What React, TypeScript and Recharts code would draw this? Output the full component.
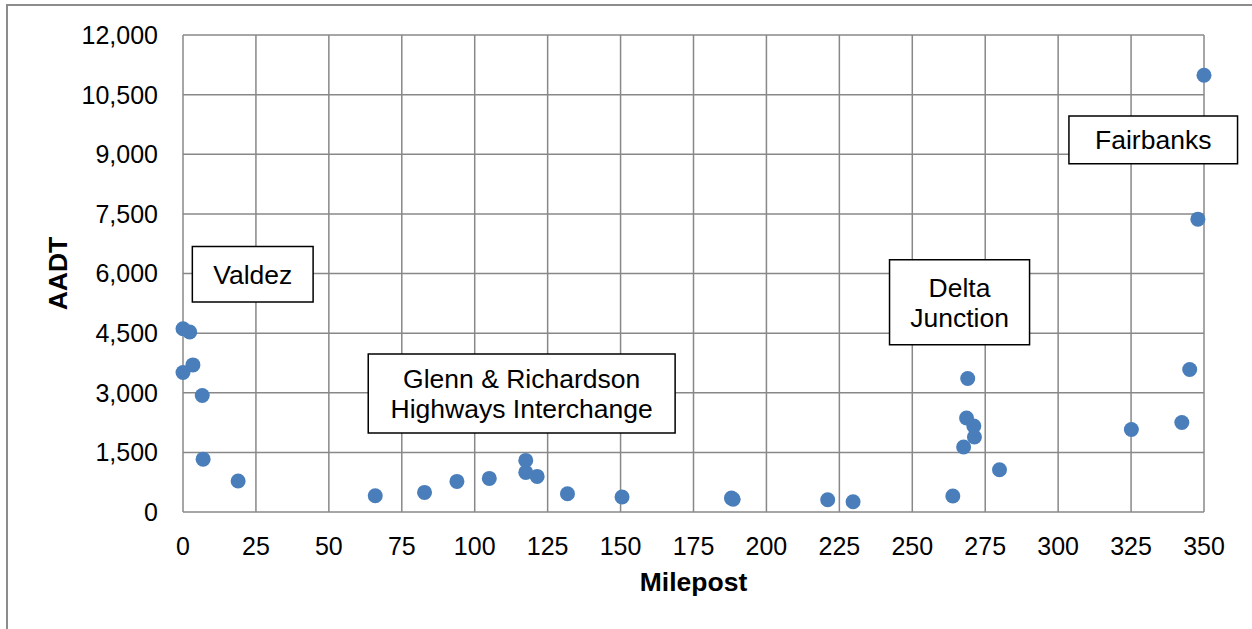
import React from 'react';
import {
  ScatterChart,
  Scatter,
  XAxis,
  YAxis,
  CartesianGrid,
  ReferenceArea,
} from 'recharts';

// Data
const mileposts = [
  0, 2.3, 3.4, 0, 6.6, 6.9, 18.9, 65.9, 82.8, 93.9, 105, 117.5, 117.5, 121.4,
  131.8, 150.5, 188, 188.6, 221, 229.7, 263.9, 269, 268.6, 271.1, 271.3, 267.6,
  279.9, 325.1, 342.4, 345.1, 350, 347.9,
];
const aadt = [
  4610, 4530, 3700, 3510, 2930, 1330, 780, 410, 493, 770, 845, 1298, 996, 896,
  460, 377, 350, 320, 309, 259, 402, 3360, 2363, 2162, 1886, 1634, 1064, 2077,
  2253, 3586, 10988, 7367,
];
const xTicks = [0, 25, 50, 75, 100, 125, 150, 175, 200, 225, 250, 275, 300, 325, 350];
const yTicks = [0, 1500, 3000, 4500, 6000, 7500, 9000, 10500, 12000];

// Annotation boxes (in data units) and their text
const annotations = [
  { lines: ['Valdez'], x1: 3.2, x2: 44.6, y1: 5280, y2: 6678 },
  { lines: ['Glenn & Richardson', 'Highways Interchange'], x1: 63.5, x2: 168.7, y1: 1986, y2: 3973 },
  { lines: ['Delta', 'Junction'], x1: 242.2, x2: 290.2, y1: 4207, y2: 6344 },
  { lines: ['Fairbanks'], x1: 303.7, x2: 361.5, y1: 8758, y2: 9965 },
];

const data = mileposts.map((x, i) => ({ x, y: aadt[i] }));

const FONT = '"Liberation Sans", Arial, sans-serif';
const FS = 25;
const FS_BIG = 26.5;
const GRID = '#888888';
const DOT = '#4a7ebb';

const BoxLabel = (props: any) => {
  const { viewBox, lines } = props;
  if (!viewBox) return null;
  const cx = viewBox.x + viewBox.width / 2;
  const cy = viewBox.y + viewBox.height / 2;
  const lh = 30.5;
  const start = cy - ((lines.length - 1) * lh) / 2;
  return (
    <text
      x={cx}
      y={start}
      textAnchor="middle"
      fontFamily={FONT}
      fontSize={FS_BIG}
      fill="#000"
    >
      {lines.map((l: string, i: number) => (
        <tspan key={i} x={cx} y={start + i * lh} dy="0.36em">
          {l}
        </tspan>
      ))}
    </text>
  );
};

const YLabel = (props: any) => {
  const vb = props.viewBox || { x: 0, y: 35, width: 183, height: 477 };
  const cx = vb.x + 57;
  const cy = vb.y + vb.height / 2;
  return (
    <text
      x={cx}
      y={cy}
      transform={`rotate(-90, ${cx}, ${cy})`}
      textAnchor="middle"
      dy="0.36em"
      fontFamily={FONT}
      fontSize={FS_BIG}
      fontWeight="bold"
      fill="#000"
    >
      AADT
    </text>
  );
};

const Dot = (p: any) => <circle cx={p.cx} cy={p.cy} r={7.5} fill={DOT} />;

export default function App() {
  return (
    <div
      style={{
        position: 'absolute',
        left: 0,
        top: 0,
        width: 1252,
        height: 629,
        background: '#fff',
        overflow: 'hidden',
      }}
    >
      <div
        style={{
          position: 'absolute',
          left: 6,
          top: 4,
          width: 1300,
          height: 700,
          border: '2px solid #8c8c8c',
          boxSizing: 'border-box',
        }}
      />
      <div style={{ position: 'absolute', left: 0, top: 0 }}>
        <ScatterChart
          width={1252}
          height={629}
          margin={{ top: 35, right: 48, bottom: 0, left: 0 }}
        >
          <CartesianGrid stroke={GRID} strokeWidth={1.5} />
          <XAxis
            type="number"
            dataKey="x"
            domain={[0, 350]}
            ticks={xTicks}
            interval={0}
            height={117}
            axisLine={false}
            tickLine={false}
            tickSize={0}
            tickMargin={25}
            tick={{ fill: '#000', fontSize: FS, fontFamily: FONT }}
            label={{
              value: 'Milepost',
              position: 'insideTop',
              offset: 60,
              fill: '#000',
              fontSize: FS_BIG,
              fontWeight: 'bold',
              fontFamily: FONT,
            }}
          />
          <YAxis
            type="number"
            dataKey="y"
            domain={[0, 12000]}
            ticks={yTicks}
            interval={0}
            width={183}
            axisLine={false}
            tickLine={false}
            tickSize={0}
            tickMargin={25}
            tickFormatter={(v: number) => v.toLocaleString('en-US')}
            tick={{ fill: '#000', fontSize: FS, fontFamily: FONT }}
            label={<YLabel />}
          />
          <Scatter data={data} shape={<Dot />} isAnimationActive={false} />
          {annotations.map((a, i) => (
            <ReferenceArea
              key={i}
              x1={a.x1}
              x2={a.x2}
              y1={a.y1}
              y2={a.y2}
              ifOverflow="visible"
              fill="#fff"
              fillOpacity={1}
              stroke="#000"
              strokeWidth={1.5}
              label={<BoxLabel lines={a.lines} />}
            />
          ))}
        </ScatterChart>
      </div>
    </div>
  );
}
